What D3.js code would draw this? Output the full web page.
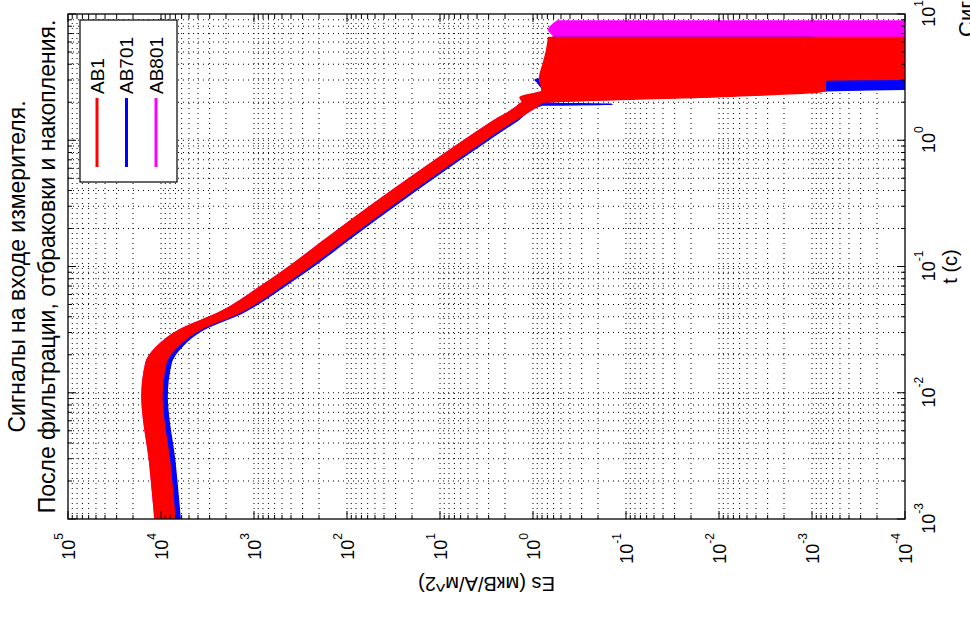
<!DOCTYPE html>
<html>
<head>
<meta charset="utf-8">
<script src="https://cdn.jsdelivr.net/npm/d3@7"></script>
<style>
  body { margin: 0; background: #fff; }
  svg { display: block; }
  text { font-family: "Liberation Sans", Arial, sans-serif; fill: #000; }
</style>
</head>
<body>
<svg id="chart" width="970" height="619"></svg>
<script>
// time, s  (shared grid for all series)
const tSec = [0.001, 0.00278, 0.0093, 0.0173, 0.0232, 0.0316, 0.0432, 0.0693, 0.1, 0.164,
  0.236, 0.408, 0.622, 0.964, 1.39, 1.9, 1.93, 1.96, 2.0, 2.19,
  2.45, 2.73, 2.9, 3.0, 3.1, 4.0, 5.0, 6.5, 6.6, 7.5, 8.8];

// upper / lower edge of each signal band, Es (мкВ/А/м^2); null = no data
const ab1Hi = [11600, 13200, 16000, 14500, 11000, 6250, 2350, 851, 415, 170,
  87.6, 31.4, 13.95, 5.89, 2.78, 1.43, 1.4, 1.35, 1.3, 1.38,
  0.8, 0.82, 0.84, 0.85, 0.85, 0.78, 0.72, 0.68, null, null, null];
const ab1Lo = [7080, 8050, 9770, 8830, 6720, 3810, 1430, 520, 253, 104,
  53.4, 19.1, 8.52, 3.59, 1.7, 0.875, 0.85, 0.82, 0.79, 0.016,
  7.2e-4, 7.2e-4, 7.2e-4, 7.2e-4, 1e-6, 1e-6, 1e-6, 1e-6, null, null, null];

const ab701Hi = [10200, 11600, 14100, 12800, 9900, 5750, 2160, 783, 382, 156,
  80.6, 28.9, 12.8, 5.42, 2.56, 1.32, 1.29, 1.24, 1.2, 1.2,
  0.75, 0.85, 0.9, 0.95, 0.8, 0.7, 0.65, 0.6, null, null, null];
const ab701Lo = [6230, 7080, 8600, 7770, 5990, 3510, 1315, 478, 233, 95.7,
  49.1, 17.6, 7.84, 3.3, 1.56, 0.8, 0.14, 0.75, 0.73, 0.05,
  1e-3, 1e-6, 1e-6, 1e-3, 1e-3, 1e-3, 1e-3, 1e-3, null, null, null];

const ab801Hi = [11600, 13200, 16000, 14500, 11000, 6250, 2350, 851, 415, 170,
  87.6, 31.4, 13.95, 5.89, 2.78, 1.43, 1.4, 1.35, 1.3, 1.3,
  0.8, 0.8, 0.8, 0.8, 0.8, 0.75, 0.7, 0.62, 0.6, 0.68, 0.55];
const ab801Lo = [7080, 8050, 9770, 8830, 6720, 3810, 1430, 520, 253, 104,
  53.4, 19.1, 8.52, 3.59, 1.7, 0.875, 0.85, 0.82, 0.79, 0.03,
  2e-3, 1e-3, 1e-6, 1e-6, 1e-6, 1e-6, 1e-6, 1e-6, 1e-6, 1e-6, 1e-6];

const seriesNames = ['AB1', 'AB701', 'AB801'];
const seriesColors = ['#ff0000', '#0000ff', '#ff00ff'];

const xTicks = [1e-3, 1e-2, 1e-1, 1, 10];
const yTicks = [1e-4, 1e-3, 1e-2, 1e-1, 1, 10, 100, 1e3, 1e4, 1e5];

const titleLines = ['Сигналы на входе измерителя.', 'После фильтрации, отбраковки и накопления.'];
const xLabel = 't (c)';
const yLabel = 'Es (мкВ/А/м^2)';
const nextTitle = 'Сигналы';

// the whole figure is turned a quarter turn counter-clockwise
const W = 505, H = 837;
const svg = d3.select('#chart');
const g = svg.append('g').attr('transform', 'translate(68,519) rotate(-90)');

const x = d3.scaleLog().domain([1e-3, 10]).range([0, W]);
const y = d3.scaleLog().domain([1e-4, 1e5]).range([H, 0]);

g.append('clipPath').attr('id', 'plotclip')
  .append('rect').attr('width', W).attr('height', H);

function logSteps(lo, hi) {
  const out = [];
  for (let e = lo; e < hi; e++)
    for (let k = 1; k < 10; k++) out.push(+(k * Math.pow(10, e)).toPrecision(6));
  out.push(Math.pow(10, hi));
  return out;
}
const isMajor = d => Math.abs(Math.log10(d) - Math.round(Math.log10(d))) < 1e-9;
const xAll = logSteps(-3, 1);
const yAll = logSteps(-4, 5);

// dotted grid
const grid = g.append('g').attr('stroke', '#000').attr('stroke-width', 1)
  .attr('stroke-dasharray', '1,4');
grid.selectAll('.gx').data(xAll.slice(1, -1)).join('line')
  .attr('x1', d => x(d)).attr('x2', d => x(d)).attr('y1', 0).attr('y2', H);
grid.selectAll('.gy').data(yAll.slice(1, -1)).join('line')
  .attr('y1', d => y(d)).attr('y2', d => y(d)).attr('x1', 0).attr('x2', W);

// signal bands
const bands = [
  { hi: ab801Hi, lo: ab801Lo, color: seriesColors[2] },
  { hi: ab701Hi, lo: ab701Lo, color: seriesColors[1] },
  { hi: ab1Hi, lo: ab1Lo, color: seriesColors[0] }
];
const area = d3.area()
  .defined(d => d.hi != null)
  .curve(d3.curveMonotoneX)
  .x(d => x(d.t))
  .y0(d => y(d.lo))
  .y1(d => y(d.hi));

g.append('g').attr('clip-path', 'url(#plotclip)')
  .selectAll('path').data(bands).join('path')
  .attr('d', b => area(tSec.map((t, i) => ({ t: t, hi: b.hi[i], lo: b.lo[i] }))))
  .attr('fill', b => b.color)
  .attr('stroke', b => b.color)
  .attr('stroke-width', 1.5)
  .attr('stroke-linejoin', 'round');

// ticks on all four sides, pointing in
const tk = g.append('g').attr('stroke', '#000').attr('stroke-width', 1);
tk.selectAll('.tb').data(xAll).join('line')
  .attr('x1', d => x(d)).attr('x2', d => x(d))
  .attr('y1', H).attr('y2', d => H - (isMajor(d) ? 8 : 4));
tk.selectAll('.tt').data(xAll).join('line')
  .attr('x1', d => x(d)).attr('x2', d => x(d))
  .attr('y1', 0).attr('y2', d => (isMajor(d) ? 8 : 4));
tk.selectAll('.tl').data(yAll).join('line')
  .attr('y1', d => y(d)).attr('y2', d => y(d))
  .attr('x1', 0).attr('x2', d => (isMajor(d) ? 8 : 4));
tk.selectAll('.tr').data(yAll).join('line')
  .attr('y1', d => y(d)).attr('y2', d => y(d))
  .attr('x1', W).attr('x2', d => W - (isMajor(d) ? 8 : 4));

g.append('rect').attr('width', W).attr('height', H)
  .attr('fill', 'none').attr('stroke', '#000').attr('stroke-width', 1.3);

// tick labels as 10 with a raised exponent
function powerLabel(sel) {
  sel.each(function (d) {
    const s = d3.select(this);
    s.text('');
    s.append('tspan').text('10');
    s.append('tspan').attr('dy', -12).attr('font-size', 12)
      .text(String(Math.round(Math.log10(d))));
  });
}

const xAxis = g.append('g').attr('transform', `translate(0,${H})`)
  .call(d3.axisBottom(x).tickValues(xTicks).tickSize(0).tickFormat(() => ''));
xAxis.select('.domain').remove();
xAxis.selectAll('text').attr('y', 30).attr('dy', null)
  .attr('font-size', 18).call(powerLabel);

const yAxis = g.append('g')
  .call(d3.axisLeft(y).tickValues(yTicks).tickSize(0).tickPadding(14).tickFormat(() => ''));
yAxis.select('.domain').remove();
yAxis.selectAll('text').attr('dy', 6.5)
  .attr('font-size', 18).call(powerLabel);
xAxis.attr('font-family', null);
yAxis.attr('font-family', null);

// titles and labels
g.selectAll('.title').data(titleLines).join('text')
  .attr('x', W / 2).attr('y', (d, i) => -43 + i * 30)
  .attr('text-anchor', 'middle').attr('font-size', 23).text(d => d);

g.append('text').attr('x', W / 2).attr('y', H + 52)
  .attr('text-anchor', 'middle').attr('font-size', 20).text(xLabel);

g.append('text').attr('transform', `translate(-58,${H / 2}) rotate(-90)`)
  .attr('text-anchor', 'middle').attr('font-size', 20).text(yLabel);

g.append('text').attr('x', 482).attr('y', H + 69)
  .attr('font-size', 22).text(nextTitle);

// legend
const leg = g.append('g').attr('transform', 'translate(337,12)');
leg.append('rect').attr('width', 162).attr('height', 97)
  .attr('fill', '#fff').attr('stroke', '#000').attr('stroke-width', 1.2);
const row = leg.selectAll('.row').data(seriesNames).join('g')
  .attr('transform', (d, i) => `translate(0,${17 + i * 29.5})`);
row.append('line').attr('x1', 15).attr('x2', 84)
  .attr('stroke', (d, i) => seriesColors[i]).attr('stroke-width', 3);
row.append('text').attr('x', 88).attr('y', 6.5)
  .attr('font-size', 19).text(d => d);
</script>
</body>
</html>
